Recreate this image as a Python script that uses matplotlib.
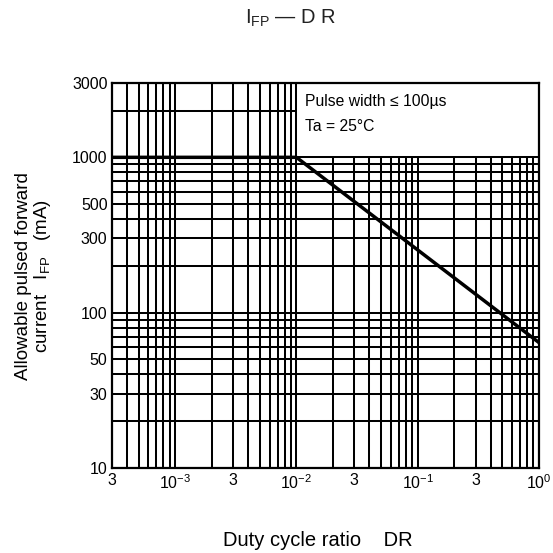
import matplotlib
matplotlib.use("Agg")
import matplotlib.pyplot as plt
from matplotlib.patches import Rectangle

plt.rcParams['font.family'] = ['Liberation Sans', 'DejaVu Sans']
plt.rcParams['mathtext.fontset'] = 'custom'
plt.rcParams['mathtext.rm'] = 'Liberation Sans'
plt.rcParams['mathtext.it'] = 'Liberation Sans'

# data: duty cycle ratio vs allowable pulsed forward current (mA)
duty = [3e-4, 1e-2, 1.0]
ifp = [1000, 1000, 64]

x_ticks = [3e-4, 1e-3, 3e-3, 1e-2, 3e-2, 1e-1, 3e-1, 1.0]
x_labels = ['3', r'$10^{-3}$', '3', r'$10^{-2}$', '3', r'$10^{-1}$', '3', r'$10^{0}$']
y_ticks = [10, 30, 50, 100, 300, 500, 1000, 3000]
y_labels = ['10', '30', '50', '100', '300', '500', '1000', '3000']

x_grid = [m * 10.0**e for e in (-4, -3, -2, -1) for m in range(1, 10)
          if 3e-4 <= m * 10.0**e <= 1.0] + [1.0]
y_grid = [m * 10.0**e for e in (1, 2, 3) for m in range(1, 10)
          if 10 <= m * 10.0**e <= 3000]

fig = plt.figure(figsize=(5.53, 5.53), dpi=100)
ax = fig.add_axes([0.202, 0.1542, 0.7727, 0.6952])
ax.set_xscale('log')
ax.set_yscale('log')
ax.set_xlim(3e-4, 1.0)
ax.set_ylim(10, 3000)

for xv in x_grid:
    ax.axvline(xv, color='black', lw=1.45, zorder=1)
for yv in y_grid:
    ax.axhline(yv, color='black', lw=1.45, zorder=1)

ax.add_patch(Rectangle((1e-2, 1000), 1.0 - 1e-2, 3000 - 1000,
                       facecolor='white', edgecolor='black', lw=1.45, zorder=2))
ax.text(0.0118, 2290, 'Pulse width \u2264 100\u00b5s', fontsize=11.3, va='center', ha='left', zorder=3)
ax.text(0.0118, 1570, 'Ta = 25\u00b0C', fontsize=11.3, va='center', ha='left', zorder=3)

ax.plot(duty, ifp, color='black', lw=2.5, zorder=4, solid_capstyle='butt')

ax.set_xticks(x_ticks)
ax.set_xticklabels(x_labels)
ax.set_yticks(y_ticks)
ax.set_yticklabels(y_labels)
ax.minorticks_off()
ax.tick_params(length=0, labelsize=11.5, pad=3)
ax.tick_params(axis='x', pad=4)
for s in ax.spines.values():
    s.set_linewidth(1.6)
    s.set_color('black')
    s.set_zorder(5)

fig.text(0.525, 0.967, 'I$_{\\rm FP}$ \u2014 D R', fontsize=14.5,
         ha='center', va='center', color='#222222')
fig.text(0.574, 0.023, 'Duty cycle ratio    DR', fontsize=14.5, ha='center', va='center')
fig.text(0.042, 0.500, 'Allowable pulsed forward', fontsize=13.5,
         ha='center', va='center', rotation=90)
fig.text(0.076, 0.500, 'current   I$_{\\rm FP}$   (mA)', fontsize=13.5,
         ha='center', va='center', rotation=90)

fig.savefig('out.png', dpi=100)
